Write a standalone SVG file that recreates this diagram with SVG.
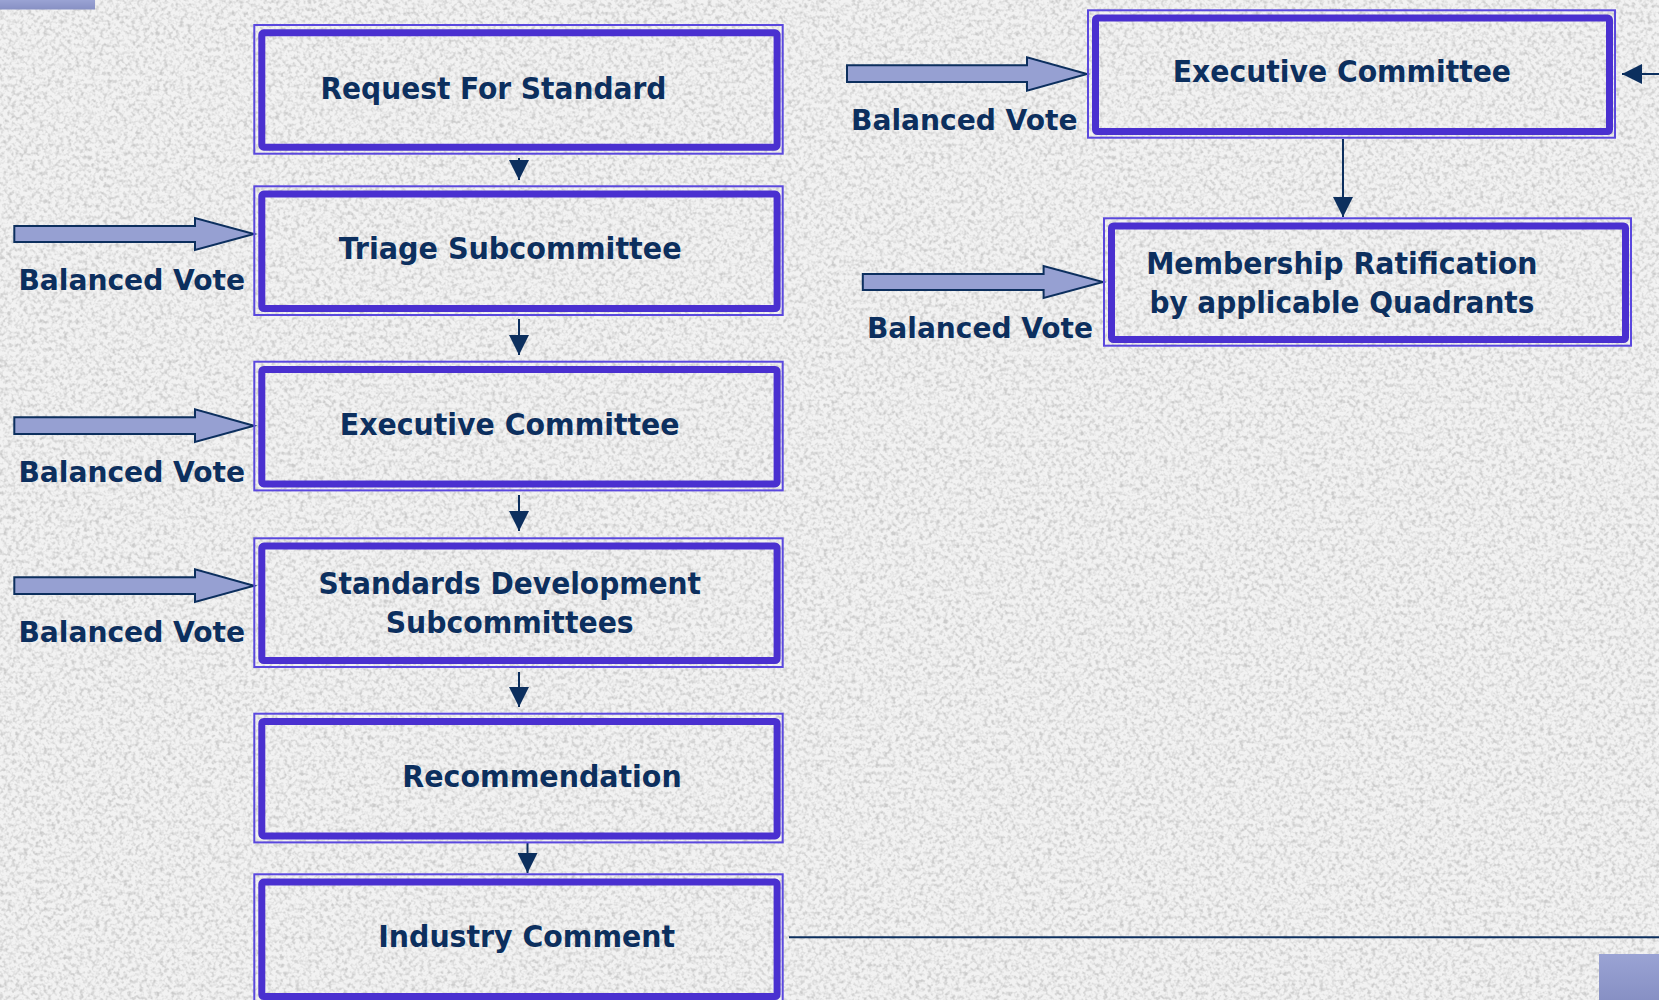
<svg xmlns="http://www.w3.org/2000/svg" width="1659" height="1000" viewBox="0 0 1659 1000">
<style>
.outer{fill:none;stroke:#5a48de;stroke-width:2}
.inner{fill:none;stroke:#4a30d0;stroke-width:7}
.lbl{font-family:"DejaVu Sans Condensed","DejaVu Sans",sans-serif;font-weight:bold;font-size:30px;fill:#0c2f5e;text-anchor:middle}
.vote{font-family:"DejaVu Sans Condensed","DejaVu Sans",sans-serif;font-weight:bold;font-size:29px;fill:#0c2f5e}
.blk{fill:#96a0d2;stroke:#0c2f5e;stroke-width:2;stroke-linejoin:miter}
.con{fill:none;stroke:#0c2f5e;stroke-width:2}
</style>
<defs>
<filter id="grain" x="0" y="0" width="1659" height="1000" filterUnits="userSpaceOnUse">
<feTurbulence type="fractalNoise" baseFrequency="0.25" numOctaves="3" seed="7"/>
<feColorMatrix type="matrix" values="0 0 0 0 0.6  0 0 0 0 0.6  0 0 0 0 0.6  2.8 0 0 0 -1.22"/>
</filter>
<marker id="ah" viewBox="0 0 20 20" refX="20" refY="10" markerWidth="20" markerHeight="20" markerUnits="userSpaceOnUse" orient="auto">
<path d="M0,0 L20,10 L0,20 Z" fill="#0c2f5e"/>
</marker>
<linearGradient id="tab" x1="0" y1="0" x2="0" y2="1">
<stop offset="0" stop-color="#9aa3d4"/>
<stop offset="1" stop-color="#8790c4"/>
</linearGradient>
</defs>
<rect width="1659" height="1000" fill="#f2f2f2"/>
<rect width="1659" height="1000" filter="url(#grain)"/>
<rect x="0" y="0" width="95" height="9.5" fill="url(#tab)"/>
<rect x="1599" y="954" width="60" height="46" fill="url(#tab)"/>

<g id="connectors">
<line class="con" x1="519" y1="158" x2="519" y2="180" marker-end="url(#ah)"/>
<line class="con" x1="519" y1="319" x2="519" y2="355" marker-end="url(#ah)"/>
<line class="con" x1="519" y1="495" x2="519" y2="531" marker-end="url(#ah)"/>
<line class="con" x1="519" y1="672" x2="519" y2="707" marker-end="url(#ah)"/>
<line class="con" x1="527.5" y1="842" x2="527.5" y2="873" marker-end="url(#ah)"/>
<line class="con" x1="789" y1="937.3" x2="1659" y2="937.3"/>
<line class="con" x1="1659" y1="74" x2="1622" y2="74" marker-end="url(#ah)"/>
<line class="con" x1="1343" y1="139" x2="1343" y2="217" marker-end="url(#ah)"/>
</g>

<g id="votes">
<path class="blk" d="M14.3,226 H195 V218 L254,234 L195,250 V242 H14.3 Z"/>
<text class="vote" x="18.4" y="290" textLength="226.6" lengthAdjust="spacingAndGlyphs">Balanced Vote</text>
<path class="blk" d="M14.3,417.3 H195 V409.3 L254,425.7 L195,442 V434 H14.3 Z"/>
<text class="vote" x="18.4" y="482" textLength="226.6" lengthAdjust="spacingAndGlyphs">Balanced Vote</text>
<path class="blk" d="M14.3,577.3 H195 V569.3 L254,585.7 L195,602 V594 H14.3 Z"/>
<text class="vote" x="18.4" y="642" textLength="226.6" lengthAdjust="spacingAndGlyphs">Balanced Vote</text>
<path class="blk" d="M847,65.3 H1027 V57.3 L1087,74 L1027,90.7 V82 H847 Z"/>
<text class="vote" x="851" y="130" textLength="226.5" lengthAdjust="spacingAndGlyphs">Balanced Vote</text>
<path class="blk" d="M862.8,274 H1043.6 V266 L1103,282 L1043.6,298 V290 H862.8 Z"/>
<text class="vote" x="867" y="338" textLength="226" lengthAdjust="spacingAndGlyphs">Balanced Vote</text>
</g>

<g id="n-request">
<rect class="outer" x="254.3" y="25" width="528.4" height="128.7"/>
<rect class="inner" x="261.8" y="32.8" width="515.3" height="114.4" rx="2"/>
<text class="lbl" x="493.4" y="98.7" textLength="345.9" lengthAdjust="spacingAndGlyphs">Request For Standard</text>
</g>
<g id="n-triage">
<rect class="outer" x="254.3" y="186.3" width="528.4" height="128.7"/>
<rect class="inner" x="261.8" y="194.1" width="515.3" height="114.4" rx="2"/>
<text class="lbl" x="510.2" y="258.7" textLength="342.8" lengthAdjust="spacingAndGlyphs">Triage Subcommittee</text>
</g>
<g id="n-exec-left">
<rect class="outer" x="254.3" y="361.7" width="528.4" height="128.7"/>
<rect class="inner" x="261.8" y="369.5" width="515.3" height="114.4" rx="2"/>
<text class="lbl" x="509.7" y="434.7" textLength="339.8" lengthAdjust="spacingAndGlyphs">Executive Committee</text>
</g>
<g id="n-standards">
<rect class="outer" x="254.3" y="538.3" width="528.4" height="128.7"/>
<rect class="inner" x="261.8" y="546.1" width="515.3" height="114.4" rx="2"/>
<text class="lbl" x="509.7" y="594" textLength="382.6" lengthAdjust="spacingAndGlyphs">Standards Development</text>
<text class="lbl" x="509.7" y="633.3" textLength="248" lengthAdjust="spacingAndGlyphs">Subcommittees</text>
</g>
<g id="n-recommendation">
<rect class="outer" x="254.3" y="713.7" width="528.4" height="128.7"/>
<rect class="inner" x="261.8" y="721.5" width="515.3" height="114.4" rx="2"/>
<text class="lbl" x="542" y="786.7" textLength="279.4" lengthAdjust="spacingAndGlyphs">Recommendation</text>
</g>
<g id="n-industry">
<rect class="outer" x="254.3" y="874.3" width="528.4" height="128.7"/>
<rect class="inner" x="261.8" y="882.1" width="515.3" height="114.4" rx="2"/>
<text class="lbl" x="526.7" y="946.7" textLength="296.8" lengthAdjust="spacingAndGlyphs">Industry Comment</text>
</g>
<g id="n-exec-right">
<rect class="outer" x="1088" y="10.3" width="527" height="127.4"/>
<rect class="inner" x="1095.5" y="18" width="514" height="113.5" rx="2"/>
<text class="lbl" x="1341.9" y="82" textLength="338.3" lengthAdjust="spacingAndGlyphs">Executive Committee</text>
</g>
<g id="n-membership">
<rect class="outer" x="1104" y="218.3" width="527" height="127.4"/>
<rect class="inner" x="1111.5" y="226" width="514" height="113.5" rx="2"/>
<text class="lbl" x="1341.8" y="274" textLength="391.3" lengthAdjust="spacingAndGlyphs">Membership Ratification</text>
<text class="lbl" x="1341.9" y="313.3" textLength="385" lengthAdjust="spacingAndGlyphs">by applicable Quadrants</text>
</g>
</svg>
